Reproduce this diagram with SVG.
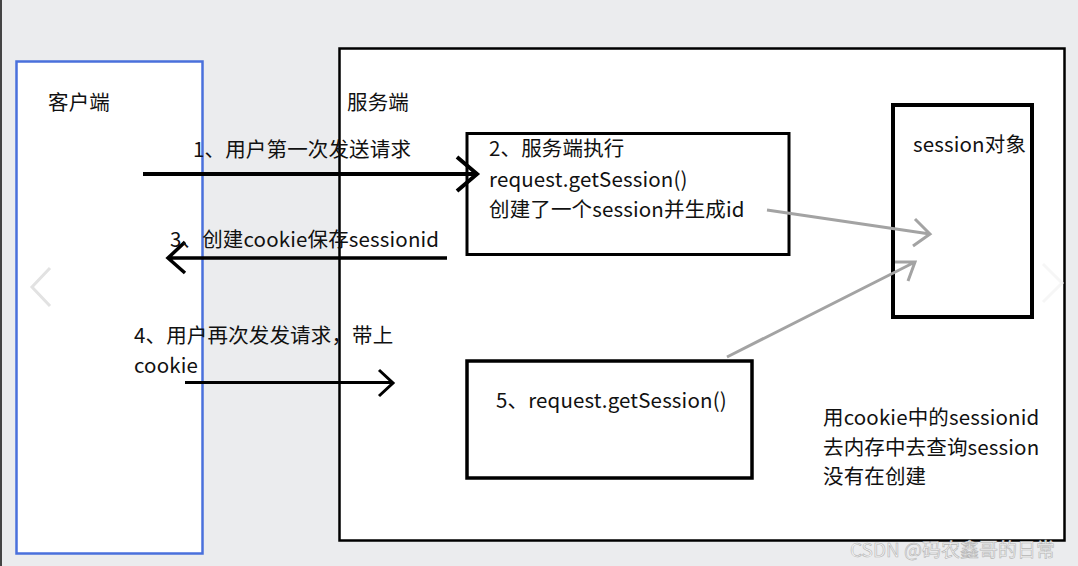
<svg xmlns="http://www.w3.org/2000/svg" width="1078" height="566" viewBox="0 0 1078 566">
<style>
text{font-family:"Noto Sans CJK SC","Noto Sans",sans-serif;font-size:20.5px;letter-spacing:0.15px;fill:#111}
.box{fill:#fff;stroke:#000}
.k{fill:none;stroke:#000;stroke-linecap:butt}
.g{fill:none;stroke:#a3a3a3;stroke-width:3}
</style>
<rect width="1078" height="566" fill="#ebecee"/>
<rect x="0" y="0" width="2" height="566" fill="#444"/>
<g id="server">
<rect class="box" x="339.5" y="48.5" width="725" height="492" stroke-width="2.5"/>
<text x="347" y="110">服务端</text>
</g>
<g id="client">
<rect x="16.5" y="61.5" width="186" height="492" fill="#fff" stroke="#4a70dc" stroke-width="2.5"/>
<text x="48" y="110">客户端</text>
</g>
<g id="step2">
<rect class="box" x="467" y="133.5" width="322" height="121" stroke-width="3"/>
<text x="489" y="156">2、服务端执行</text>
<text x="489" y="187">request.getSession()</text>
<text x="489" y="217">创建了一个session并生成id</text>
</g>
<g id="session">
<rect class="box" x="893" y="105" width="139" height="212" stroke-width="4"/>
<text x="913" y="152">session对象</text>
</g>
<g id="step5">
<rect class="box" x="467" y="361" width="285" height="117" stroke-width="3.5"/>
<text x="496" y="408">5、request.getSession()</text>
</g>
<g id="note">
<text x="823" y="425">用cookie中的sessionid</text>
<text x="823" y="455">去内存中去查询session</text>
<text x="823" y="484">没有在创建</text>
</g>
<g id="connectors">
<path class="k" stroke-width="4" d="M143 174H476M457 157L477 174L457 191"/>
<path class="k" stroke-width="3.5" d="M447 258H168M185 242L168 258L185 273"/>
<path class="k" stroke-width="3" d="M185 382.5H393M379 370L393 383L379 396"/>
<path class="g" d="M767 210L930 234M915 219L930 234L913 246"/>
<path class="g" d="M727 357L915 262M895 262L915 262L908 281"/>
</g>
<g id="labels">
<text x="193" y="157">1、用户第一次发送请求</text>
<text x="170" y="247">3、创建cookie保存sessionid</text>
<text x="134" y="343">4、用户再次发发请求，带上</text>
<text x="134" y="373">cookie</text>
</g>
<path d="M50 268L32 287L50 306" fill="none" stroke="#e2e2e2" stroke-width="3"/>
<path d="M1043 264L1062 283L1043 302" fill="none" stroke="#f4f4f4" stroke-width="3" opacity="0.8"/>
<text x="850" y="557" style="font-size:19px;letter-spacing:0;fill:#f4f4f4;stroke:#b4b4b4;stroke-width:0.6">CSDN @码农鑫哥的日常</text>
</svg>
